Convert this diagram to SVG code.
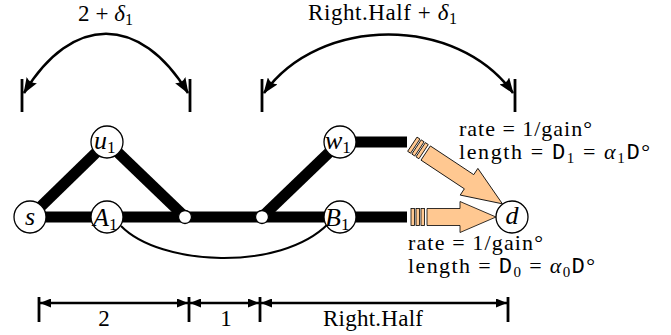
<svg xmlns="http://www.w3.org/2000/svg" width="671" height="335" viewBox="0 0 671 335" font-family="'Liberation Serif', 'Times New Roman', serif">
<defs>
<style>
.thick{stroke:#000;stroke-width:11;fill:none;stroke-linecap:butt}
.node{fill:#fff;stroke:#000;stroke-width:1.3}
.thin{stroke:#000;stroke-width:2;fill:none}
.arc{stroke:#000;stroke-width:2.6;fill:none}
.dim{stroke:#000;stroke-width:2.6;fill:none}
.tick{stroke:#000;stroke-width:2.8}
.fat{fill:#FFC891;stroke:#000;stroke-width:0.8}
.lbl{font-size:23px}
.nl{font-size:26px;font-style:italic}
.sub{font-size:17px;font-style:normal}
.it{font-style:italic}
.mono{font-family:'Liberation Mono','Courier New',monospace}
.ann{font-size:22px}
</style>
<marker id="ah" viewBox="0 0 16 12" refX="15" refY="6" markerWidth="16" markerHeight="12" markerUnits="userSpaceOnUse" orient="auto-start-reverse">
<path d="M0,0 L16,6 L0,12 Q4,6 0,0 Z" fill="#000"/>
</marker>
<marker id="ahs" viewBox="0 0 11 9" refX="11" refY="4.5" markerWidth="11" markerHeight="9" markerUnits="userSpaceOnUse" orient="auto-start-reverse">
<path d="M0,0 L11,4.5 L0,9 Z" fill="#000"/>
</marker>
</defs>

<g id="connectors">
<line class="thick" x1="30" y1="217" x2="407" y2="217"/>
<line class="thick" x1="30" y1="217" x2="107" y2="142"/>
<line class="thick" x1="107" y1="142" x2="185" y2="217"/>
<line class="thick" x1="262" y1="217" x2="340" y2="142"/>
<line class="thick" x1="340" y1="142" x2="407" y2="142"/>
<path class="thin" d="M121,226 C160,266 280,272 328,224"/>
<g id="arrow-w1-d" transform="translate(409,142) rotate(33.5)">
<rect class="fat" x="4" y="-8.5" width="3.5" height="17"/>
<rect class="fat" x="9" y="-8.5" width="3.5" height="17"/>
<rect class="fat" x="14" y="-8.5" width="3.5" height="17"/>
<path class="fat" d="M20,-8.5 L72,-8.5 L72,-16 L112,0 L72,16 L72,8.5 L20,8.5 Z"/>
</g>
<g id="arrow-B1-d" transform="translate(407,217)">
<rect class="fat" x="4" y="-8.5" width="3.5" height="17"/>
<rect class="fat" x="9" y="-8.5" width="3.5" height="17"/>
<rect class="fat" x="14" y="-8.5" width="3.5" height="17"/>
<path class="fat" d="M20,-8.5 L53,-8.5 L53,-15.5 L89,0 L53,15.5 L53,8.5 L20,8.5 Z"/>
</g>
</g>

<g id="node-s"><circle class="node" cx="30" cy="217" r="16"/><text class="nl" x="30" y="225" text-anchor="middle">s</text></g>
<g id="node-A1"><circle class="node" cx="107" cy="217" r="16"/><text class="nl" x="93" y="226">A<tspan class="sub" dy="4">1</tspan></text></g>
<g id="node-u1"><circle class="node" cx="107" cy="142" r="16"/><text class="nl" x="94" y="149">u<tspan class="sub" dy="4">1</tspan></text></g>
<g id="node-c1"><circle class="node" cx="185" cy="217" r="6.5"/></g>
<g id="node-c2"><circle class="node" cx="262" cy="217" r="6.5"/></g>
<g id="node-w1"><circle class="node" cx="340" cy="142" r="16"/><text class="nl" x="325" y="149">w<tspan class="sub" dy="4">1</tspan></text></g>
<g id="node-B1"><circle class="node" cx="340" cy="217" r="16"/><text class="nl" x="325" y="226">B<tspan class="sub" dy="4">1</tspan></text></g>
<g id="node-d"><circle class="node" cx="512" cy="217" r="16"/><text class="nl" x="512" y="224" text-anchor="middle" font-size="24">d</text></g>

<g id="top-arcs">
<line class="tick" x1="22" y1="79" x2="22" y2="112"/>
<line class="tick" x1="190" y1="79" x2="190" y2="112"/>
<path class="arc" d="M24,93 C72,14 140,14 188,93" marker-start="url(#ah)" marker-end="url(#ah)"/>
<line class="tick" x1="262" y1="79" x2="262" y2="112"/>
<line class="tick" x1="515" y1="79" x2="515" y2="112"/>
<path class="arc" d="M264,93 C320,15 457,15 513,93" marker-start="url(#ah)" marker-end="url(#ah)"/>
<text class="lbl" x="78" y="21" textLength="55" lengthAdjust="spacing">2 + <tspan class="it">δ</tspan><tspan font-size="16" dy="4">1</tspan></text>
<text class="lbl" x="308" y="20" textLength="149" lengthAdjust="spacing">Right.Half + <tspan class="it">δ</tspan><tspan font-size="16" dy="4">1</tspan></text>
</g>

<g id="dimensions">
<line class="tick" x1="39" y1="297" x2="39" y2="322"/>
<line class="tick" x1="189" y1="297" x2="189" y2="322"/>
<line class="tick" x1="260" y1="297" x2="260" y2="322"/>
<line class="tick" x1="508" y1="297" x2="508" y2="322"/>
<line class="dim" x1="40" y1="303" x2="188" y2="303" marker-start="url(#ahs)" marker-end="url(#ahs)"/>
<line class="dim" x1="190" y1="303" x2="259" y2="303" marker-start="url(#ahs)" marker-end="url(#ahs)"/>
<line class="dim" x1="261" y1="303" x2="507" y2="303" marker-start="url(#ahs)" marker-end="url(#ahs)"/>
<text class="lbl" x="104" y="326" text-anchor="middle">2</text>
<text class="lbl" x="226" y="326" text-anchor="middle">1</text>
<text class="lbl" x="373" y="326" text-anchor="middle" textLength="100" lengthAdjust="spacing">Right.Half</text>
</g>

<g id="labels">
<text class="ann" x="459" y="136" textLength="133" lengthAdjust="spacing">rate = 1/gain°</text>
<text class="ann" x="459" y="159" textLength="191" lengthAdjust="spacing">length = <tspan class="mono">D</tspan><tspan font-size="15" dy="4">1</tspan><tspan dy="-4"> = </tspan><tspan class="it">α</tspan><tspan font-size="15" dy="4">1</tspan><tspan class="mono" dy="-4">D</tspan>°</text>
<text class="ann" x="408" y="250" textLength="135" lengthAdjust="spacing">rate = 1/gain°</text>
<text class="ann" x="408" y="273" textLength="187" lengthAdjust="spacing">length = <tspan class="mono">D</tspan><tspan font-size="15" dy="4">0</tspan><tspan dy="-4"> = </tspan><tspan class="it">α</tspan><tspan font-size="15" dy="4">0</tspan><tspan class="mono" dy="-4">D</tspan>°</text>
</g>
</svg>
